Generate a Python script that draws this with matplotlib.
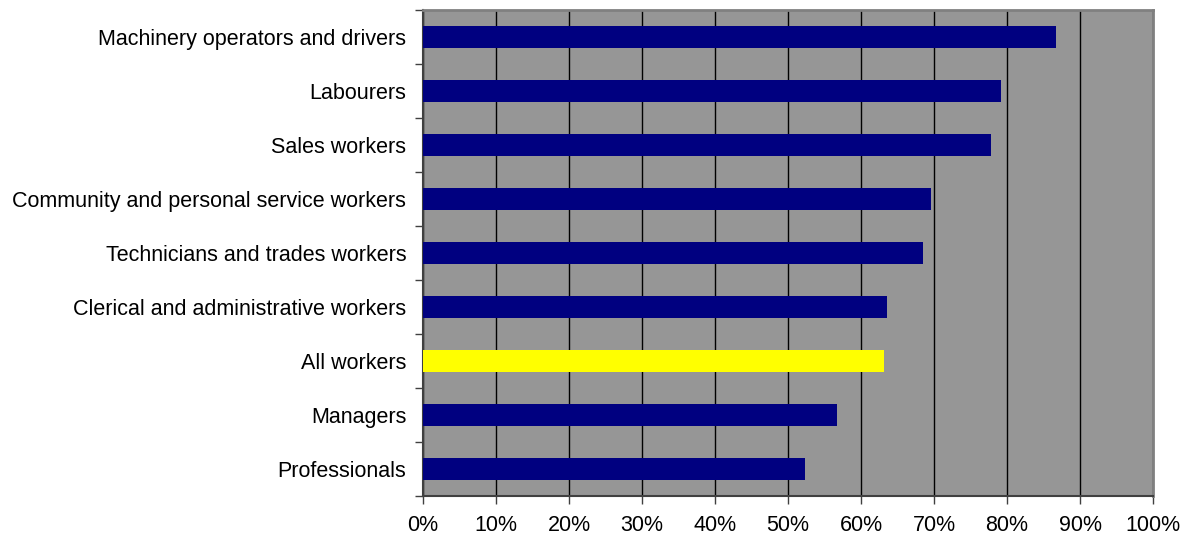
import matplotlib
matplotlib.use("Agg")
import matplotlib.pyplot as plt
import numpy as np

# occupation groups, bottom to top as drawn
occupations = [
    "Professionals",
    "Managers",
    "All workers",
    "Clerical and administrative workers",
    "Technicians and trades workers",
    "Community and personal service workers",
    "Sales workers",
    "Labourers",
    "Machinery operators and drivers",
]
shares = [52.3, 56.7, 63.2, 63.6, 68.5, 69.6, 77.8, 79.2, 86.7]
highlight = "All workers"
x_ticks = list(range(0, 101, 10))

plt.rcParams["font.family"] = ["Liberation Sans", "DejaVu Sans"]

fig = plt.figure(figsize=(11.92, 5.36), dpi=100)
ax = fig.add_axes([423 / 1192, 1 - 496 / 536, 730 / 1192, 486 / 536])
ax.set_facecolor("#969696")

colors = ["#ffff00" if o == highlight else "#000080" for o in occupations]
ypos = np.arange(len(occupations))
ax.barh(ypos, shares, height=0.41, color=colors, zorder=3)

ax.set_xlim(0, 100)
ax.set_ylim(-0.5, len(occupations) - 0.5)
ax.set_xticks(x_ticks)
ax.set_xticklabels([f"{t}%" for t in x_ticks], fontsize=15.5)
ax.set_yticks(ypos)
ax.set_yticklabels(occupations, fontsize=15.5)
ax.tick_params(axis="y", length=0, pad=12)
ax.set_yticks(np.arange(-0.5, len(occupations), 1), minor=True)
ax.tick_params(axis="y", which="minor", length=6, color="#404040", width=1)
ax.tick_params(axis="x", length=6, color="#404040", width=1, pad=8)

ax.grid(axis="x", color="black", linewidth=1, zorder=1)
ax.set_axisbelow(True)

for side in ("left", "bottom"):
    ax.spines[side].set_color("#404040")
    ax.spines[side].set_linewidth(1.5)
for side in ("top", "right"):
    ax.spines[side].set_color("#808080")
    ax.spines[side].set_linewidth(2)

fig.savefig("out.png", dpi=100)
